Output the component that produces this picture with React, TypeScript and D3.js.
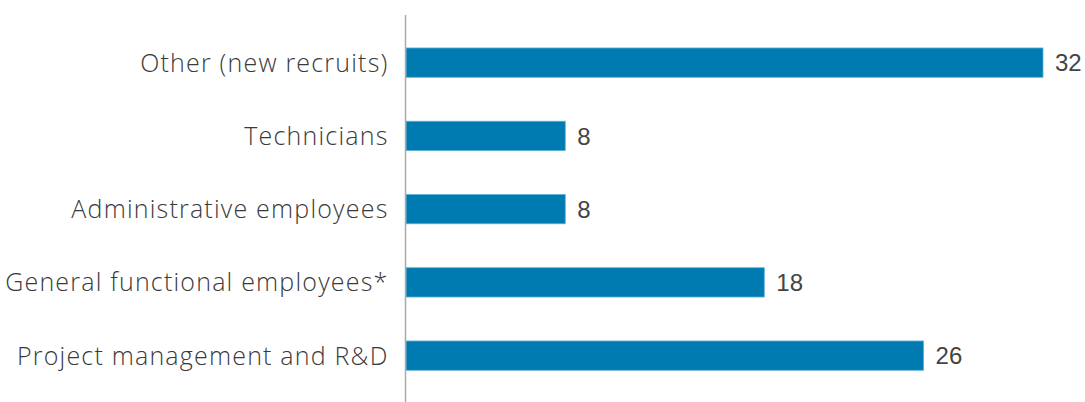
import React from "react";
import * as d3 from "d3";

const categories = [
  "Other (new recruits)",
  "Technicians",
  "Administrative employees",
  "General functional employees*",
  "Project management and R&D",
];
const values = [32, 8, 8, 18, 26];

const W = 1085;
const H = 402;

export default function App() {
  const x = d3.scaleLinear().domain([0, 32]).range([406, 1043]);
  const y = d3
    .scaleBand<string>()
    .domain(categories)
    .range([26, 392.25])
    .paddingInner(0.6)
    .paddingOuter(0.3);
  const labelFont = "'Open Sans', Lato, sans-serif";
  const valueFont = "'Liberation Sans', Arial, sans-serif";
  return (
    <svg
      width={W}
      height={H}
      style={{ position: "absolute", left: 0, top: 0, background: "#fff" }}
    >
      {categories.map((c, i) => {
        const yy = y(c)!;
        const bw = y.bandwidth();
        return (
          <g key={c}>
            <rect
              x={x(0)}
              y={yy}
              width={x(values[i]) - x(0)}
              height={bw}
              fill="#007BB2"
              stroke="#5FAFD6"
              strokeWidth={0.8}
            />
            <text
              x={388.5}
              y={yy + bw / 2}
              dy="0.36em"
              textAnchor="end"
              fontFamily={labelFont}
              fontWeight={300}
              fontSize={25}
              letterSpacing={1.2}
              fill="#3a3a3a"
            >
              {c}
            </text>
            <text
              x={x(values[i]) + 12}
              y={yy + bw / 2}
              dy="0.36em"
              textAnchor="start"
              fontFamily={valueFont}
              fontSize={24}
              fill="#444"
            >
              {values[i]}
            </text>
          </g>
        );
      })}
      <line x1={405.5} x2={405.5} y1={15} y2={H} stroke="#aaa" strokeWidth={1.5} />
    </svg>
  );
}
